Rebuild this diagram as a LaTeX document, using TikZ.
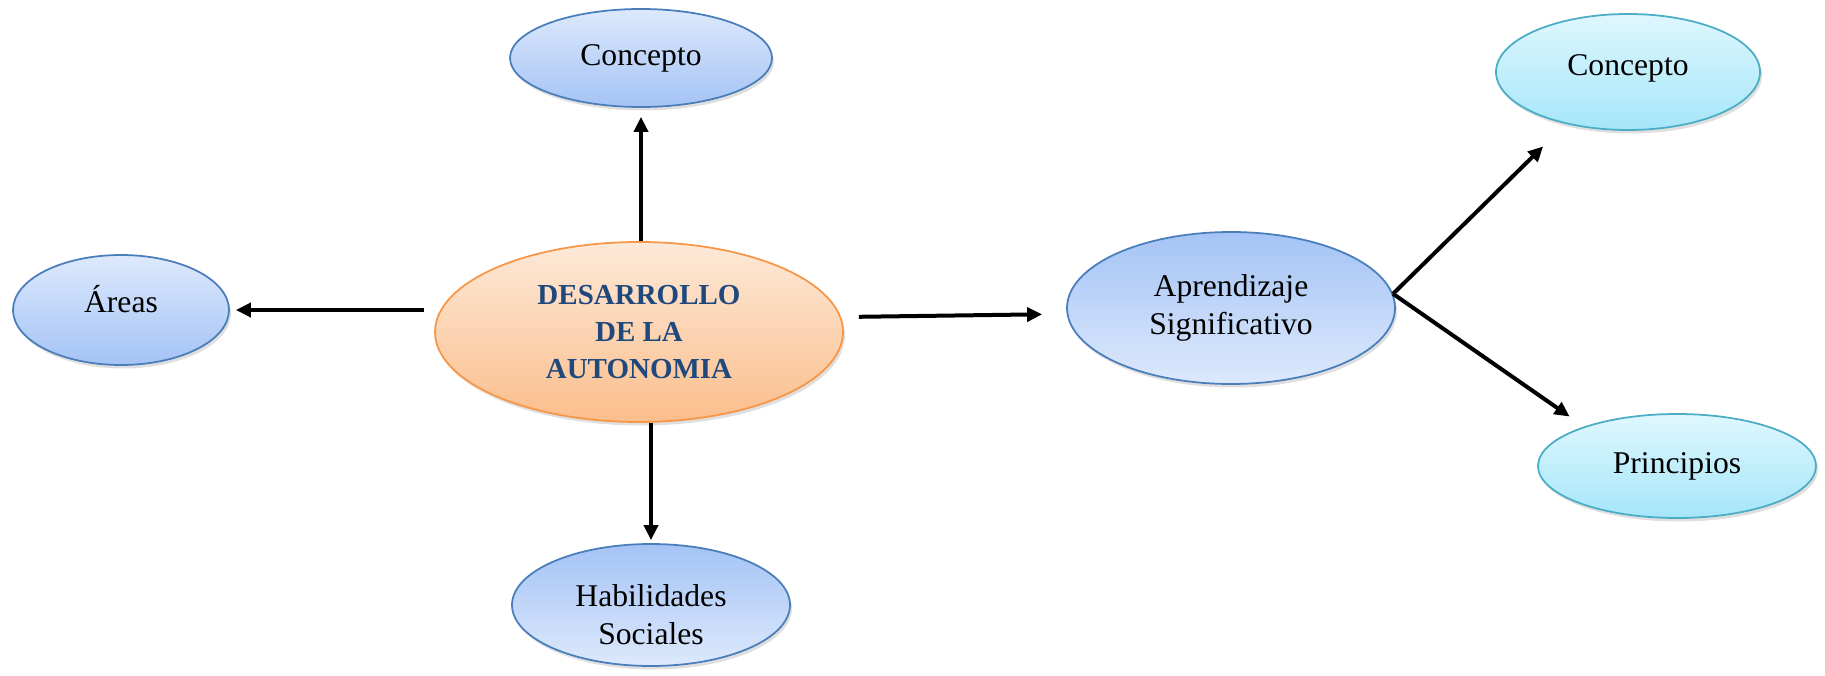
\documentclass[tikz,border=0pt]{standalone}
\usepackage{fontspec}
\setmainfont{Liberation Serif}
\usetikzlibrary{shapes.geometric,arrows.meta,shadows}
\definecolor{azulborde}{RGB}{74,126,187}
\definecolor{azulclaro}{RGB}{221,233,252}
\definecolor{azulfuerte}{RGB}{164,195,245}
\definecolor{naranjaborde}{RGB}{247,150,70}
\definecolor{naranjaclaro}{RGB}{253,233,216}
\definecolor{naranjafuerte}{RGB}{251,190,140}
\definecolor{cianborde}{RGB}{75,172,198}
\definecolor{cianclaro}{RGB}{223,247,254}
\definecolor{cianfuerte}{RGB}{165,230,249}
\definecolor{tituloazul}{RGB}{31,73,125}

\begin{document}
\begin{tikzpicture}[
	burbuja/.style={ellipse, draw=azulborde, line width=1pt, align=center, inner sep=0pt,
		font=\fontsize{18}{21.5}\selectfont,
		drop shadow={opacity=0.25, shadow xshift=0.04cm, shadow yshift=-0.07cm}},
	azularriba/.style={burbuja, top color=azulclaro, bottom color=azulfuerte},
	azulabajo/.style={burbuja, top color=azulfuerte, bottom color=azulclaro},
	cian/.style={burbuja, draw=cianborde, top color=cianclaro, bottom color=cianfuerte},
	flecha/.style={line width=0.08cm, -{Triangle[length=0.3cm,width=0.28cm]}}
	]
	\useasboundingbox (0,0) rectangle (36.5,13.5);
	
	% Nodo central
	\node[burbuja, draw=naranjaborde, top color=naranjaclaro, bottom color=naranjafuerte,
		minimum width=8.16cm, minimum height=3.6cm, text=tituloazul,
		font=\bfseries\fontsize{16.5}{21}\selectfont] (central) at (12.78,6.86)
		{DESARROLLO\\DE LA\\AUTONOMIA};
	
	% Ramas del nodo central
	\node[azularriba, minimum width=5.24cm, minimum height=1.96cm] (concepto) at (12.82,12.34) {Concepto};
	\node[azularriba, minimum width=4.32cm, minimum height=2.2cm] (areas) at (2.42,7.3) {\raisebox{0.44cm}{Áreas}};
	\node[azulabajo, minimum width=5.56cm, minimum height=2.44cm] (habilidades) at (13.02,1.4)
		{\rule{0pt}{0.82cm}Habilidades\\Sociales};
	\node[azulabajo, minimum width=6.56cm, minimum height=3.04cm] (aprendizaje) at (24.62,7.34) {Aprendizaje\\Significativo};
	
	% Ramas de aprendizaje
	\node[cian, minimum width=5.28cm, minimum height=2.32cm] (conceptob) at (32.56,12.06) {\raisebox{0.28cm}{Concepto}};
	\node[cian, minimum width=5.56cm, minimum height=2.08cm] (principios) at (33.54,4.18) {Principios};
	
	% Flechas
	\draw[flecha, shorten >=0.18cm] (central.north -| concepto.south) -- (concepto.south);
	\draw[flecha, shorten <=0.2cm, shorten >=0.12cm] (central.west |- areas.east) -- (areas.east);
	\draw[flecha, shorten >=0.06cm] (central.south -| habilidades.north) -- (habilidades.north);
	\draw[flecha, shorten <=0.3cm, shorten >=0.48cm] ([yshift=0.3cm]central.east) -- ([yshift=-0.12cm]aprendizaje.west);
	\coordinate (bifurca) at (aprendizaje.5);
	\draw[flecha, shorten >=0.64cm] (bifurca) -- (conceptob.220);
	\draw[flecha, shorten >=0.35cm] (bifurca) -- (principios.157);
\end{tikzpicture}
\end{document}
